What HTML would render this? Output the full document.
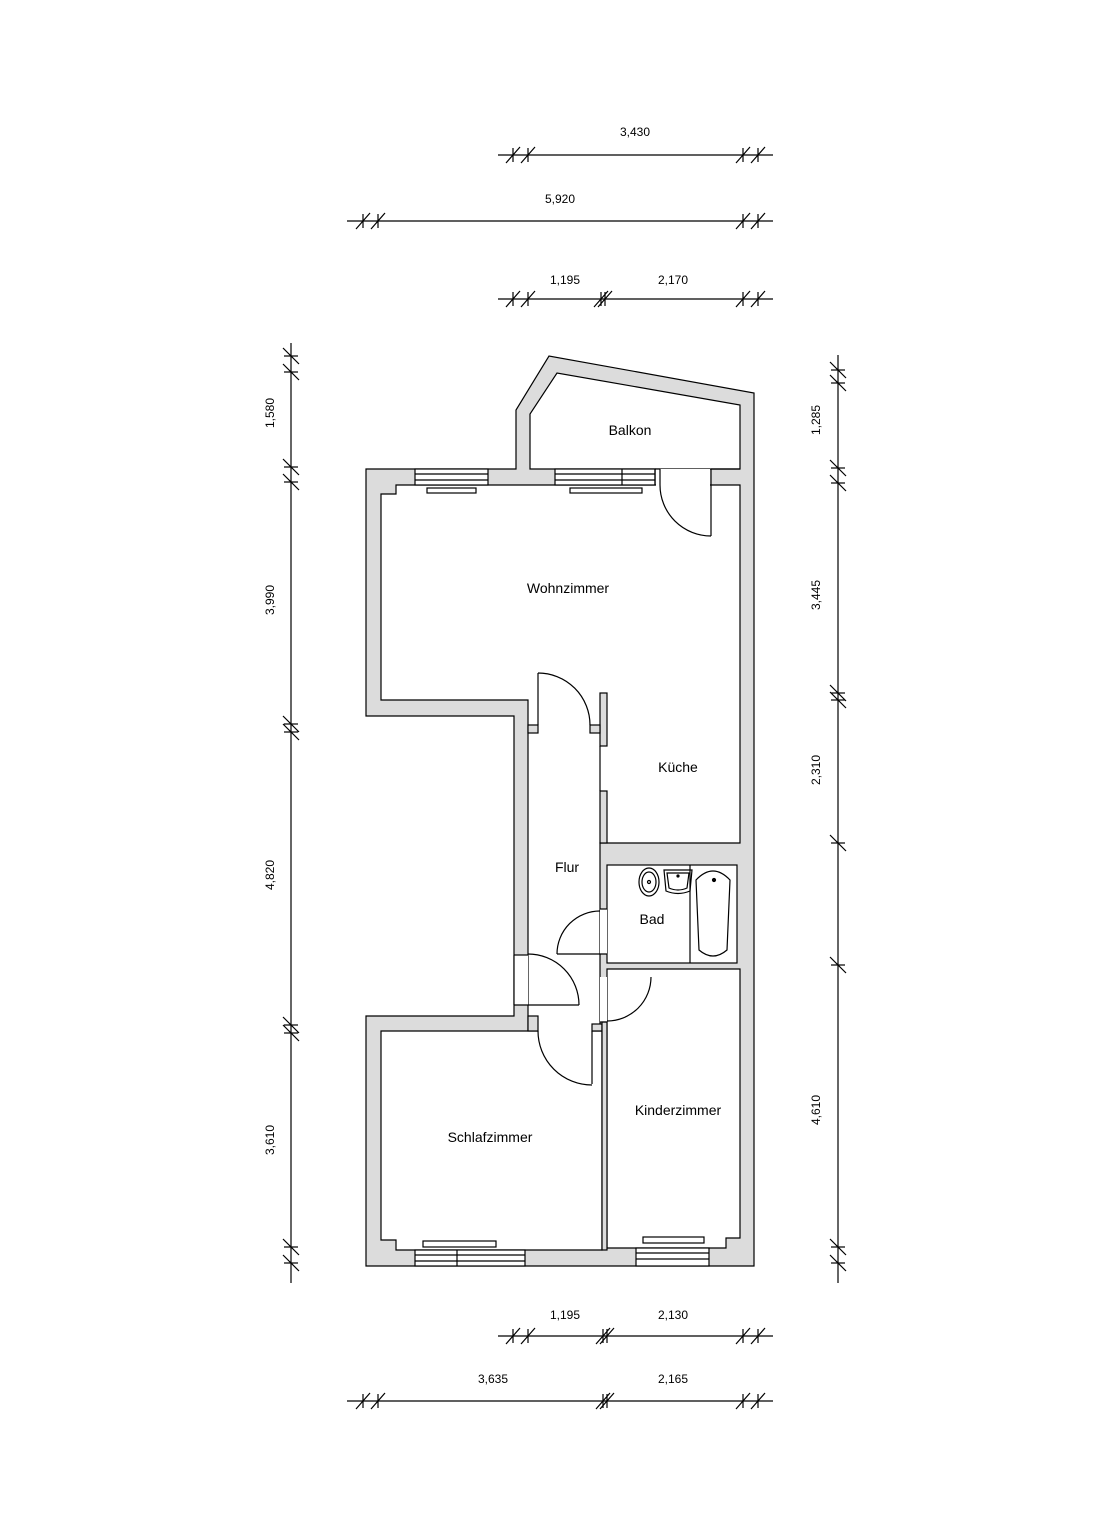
<!DOCTYPE html>
<html><head><meta charset="utf-8"><style>
html,body{margin:0;padding:0;background:#fff;}
svg{display:block;}
text{font-family:"Liberation Sans",Arial,sans-serif;fill:#000;}
</style></head><body>
<svg width="1109" height="1538" viewBox="0 0 1109 1538" xmlns="http://www.w3.org/2000/svg">
<defs>
<g id="ht"><line x1="0" y1="-7" x2="0" y2="7"/><line x1="-7" y1="8" x2="7" y2="-8"/></g>
<g id="vt"><line x1="-7" y1="0" x2="7" y2="0"/><line x1="-8" y1="-8" x2="8" y2="8"/></g>
</defs>
<g stroke="#000" stroke-width="1.2" fill="none">
<line x1="498" y1="155" x2="773" y2="155"/>
<use href="#ht" x="513" y="155"/><use href="#ht" x="528" y="155"/><use href="#ht" x="743" y="155"/><use href="#ht" x="758" y="155"/>
<line x1="347" y1="221" x2="773" y2="221"/>
<use href="#ht" x="363" y="221"/><use href="#ht" x="378" y="221"/><use href="#ht" x="743" y="221"/><use href="#ht" x="758" y="221"/>
<line x1="498" y1="299" x2="773" y2="299"/>
<use href="#ht" x="513" y="299"/><use href="#ht" x="528" y="299"/><use href="#ht" x="601" y="299"/><use href="#ht" x="605" y="299"/><use href="#ht" x="743" y="299"/><use href="#ht" x="758" y="299"/>
<line x1="498" y1="1336" x2="773" y2="1336"/>
<use href="#ht" x="513" y="1336"/><use href="#ht" x="528" y="1336"/><use href="#ht" x="603" y="1336"/><use href="#ht" x="607" y="1336"/><use href="#ht" x="743" y="1336"/><use href="#ht" x="758" y="1336"/>
<line x1="347" y1="1401" x2="773" y2="1401"/>
<use href="#ht" x="363" y="1401"/><use href="#ht" x="378" y="1401"/><use href="#ht" x="603" y="1401"/><use href="#ht" x="607" y="1401"/><use href="#ht" x="743" y="1401"/><use href="#ht" x="758" y="1401"/>
<line x1="291" y1="343" x2="291" y2="1283"/>
<use href="#vt" x="291" y="356"/><use href="#vt" x="291" y="372"/><use href="#vt" x="291" y="467"/><use href="#vt" x="291" y="482"/>
<use href="#vt" x="291" y="724"/><use href="#vt" x="291" y="732"/><use href="#vt" x="291" y="1025"/><use href="#vt" x="291" y="1033"/>
<use href="#vt" x="291" y="1247"/><use href="#vt" x="291" y="1263"/>
<line x1="838" y1="355" x2="838" y2="1283"/>
<use href="#vt" x="838" y="370"/><use href="#vt" x="838" y="383"/><use href="#vt" x="838" y="468"/><use href="#vt" x="838" y="483"/>
<use href="#vt" x="838" y="693"/><use href="#vt" x="838" y="700"/><use href="#vt" x="838" y="843"/><use href="#vt" x="838" y="965"/>
<use href="#vt" x="838" y="1247"/><use href="#vt" x="838" y="1263"/>
</g>
<g font-size="12" text-anchor="middle">
<text x="635" y="136">3,430</text>
<text x="560" y="203">5,920</text>
<text x="565" y="284">1,195</text><text x="673" y="284">2,170</text>
<text x="565" y="1319">1,195</text><text x="673" y="1319">2,130</text>
<text x="493" y="1383">3,635</text><text x="673" y="1383">2,165</text>
<text transform="translate(274,413) rotate(-90)">1,580</text>
<text transform="translate(274,600) rotate(-90)">3,990</text>
<text transform="translate(274,875) rotate(-90)">4,820</text>
<text transform="translate(274,1140) rotate(-90)">3,610</text>
<text transform="translate(820,420) rotate(-90)">1,285</text>
<text transform="translate(820,595) rotate(-90)">3,445</text>
<text transform="translate(820,770) rotate(-90)">2,310</text>
<text transform="translate(820,1110) rotate(-90)">4,610</text>
</g>

<g stroke="#000" stroke-width="1.2">
<path fill="#dcdcdc" d="M366,469 L516,469 L516,410 L549,356 L754,393 L754,1266 L366,1266 L366,1016 L514,1016 L514,716 L366,716 Z"/>
<path fill="#fff" d="M530,469 L530,414 L557,373 L740,405 L740,469 Z"/>
<path fill="#fff" d="M381,494 L396,494 L396,485 L740,485 L740,843 L600,843 L600,1031 L528,1031 L528,700 L381,700 Z"/>
<rect fill="#fff" x="607" y="865" width="130" height="98"/>
<path fill="#fff" d="M607,969 L740,969 L740,1238 L726,1238 L726,1248 L607,1248 Z"/>
<path fill="#fff" d="M381,1031 L602,1031 L602,1250 L396,1250 L396,1240 L381,1240 Z"/>
</g>
<g stroke="none" fill="#fff">
<rect x="538" y="1025" width="54" height="12"/>
<rect x="514" y="955" width="14" height="50"/>
<rect x="600" y="909" width="7" height="45"/>
<rect x="600" y="977" width="7" height="45"/>
<rect x="601" y="747" width="6" height="44"/>
<rect x="656" y="469" width="54" height="19"/>
</g>
<g stroke="#000" stroke-width="1.2" fill="#dcdcdc">
<rect x="600" y="693" width="7" height="53"/>
<rect x="600" y="791" width="7" height="52"/>
<rect x="528" y="725" width="10" height="8"/>
<rect x="590" y="725" width="10" height="8"/>
<rect x="528" y="1016" width="10" height="15"/>
<rect x="592" y="1024" width="10" height="7"/>
<rect x="602" y="1022" width="5" height="228"/>
</g>
<g stroke="#000" stroke-width="1.2" fill="none">
<line x1="600" y1="746" x2="600" y2="791"/>
<rect x="415" y="469" width="73" height="16" fill="#fff"/>
<line x1="415" y1="474" x2="488" y2="474"/><line x1="415" y1="480" x2="488" y2="480"/>
<rect x="427" y="488" width="49" height="5" fill="#fff"/>
<rect x="555" y="469" width="100" height="16" fill="#fff"/>
<line x1="555" y1="474" x2="655" y2="474"/><line x1="555" y1="480" x2="655" y2="480"/><line x1="622" y1="469" x2="622" y2="485"/>
<rect x="570" y="488" width="72" height="5" fill="#fff"/>
<line x1="655" y1="469" x2="655" y2="485"/><line x1="660" y1="469" x2="660" y2="485"/><line x1="711" y1="469" x2="711" y2="536"/>
<line x1="655" y1="469" x2="660" y2="469"/><line x1="711" y1="469" x2="740" y2="469"/>
<path d="M711,536 A51,51 0 0 1 660,485"/>
<line x1="538" y1="673" x2="538" y2="725"/>
<path d="M538,673 A52,52 0 0 1 590,725"/>
<line x1="557" y1="954" x2="607" y2="954"/><line x1="600" y1="909" x2="607" y2="909"/>
<path d="M557,954 A43,43 0 0 1 600,911"/>
<path d="M651,977 A44,44 0 0 1 607,1021"/>
<line x1="600" y1="1022" x2="607" y2="1022"/>
<line x1="514" y1="955" x2="528" y2="955"/><line x1="514" y1="1005" x2="579" y2="1005"/><line x1="514" y1="955" x2="514" y2="1005"/>
<path d="M528,954 A51,51 0 0 1 579,1005"/>
<line x1="592" y1="1031" x2="592" y2="1084"/>
<path d="M538,1031 A54,54 0 0 0 592,1085"/>
<line x1="690" y1="865" x2="690" y2="963"/>
<path d="M696,880 Q713,862 730,880 L727,950 Q713,962 699,950 Z"/>
<circle cx="714" cy="880" r="1.5" fill="#000"/>
<ellipse cx="649" cy="882" rx="10" ry="14"/><ellipse cx="649" cy="882" rx="7" ry="10"/>
<circle cx="649" cy="882" r="1.5"/>
<path d="M664,870 L692,870 L690,891 Q678,896 666,891 Z"/><path d="M667,873 L689,873 L687,888 Q678,892 669,888 Z"/>
<circle cx="678" cy="876" r="1" fill="#000"/>
<rect x="415" y="1250" width="110" height="16" fill="#fff"/>
<line x1="415" y1="1255" x2="525" y2="1255"/><line x1="415" y1="1261" x2="525" y2="1261"/><line x1="457" y1="1250" x2="457" y2="1266"/>
<rect x="423" y="1241" width="73" height="6" fill="#fff"/>
<rect x="636" y="1248" width="73" height="18" fill="#fff"/>
<line x1="636" y1="1253" x2="709" y2="1253"/><line x1="636" y1="1259" x2="709" y2="1259"/>
<rect x="643" y="1237" width="61" height="6" fill="#fff"/>
</g>
<g font-size="14" text-anchor="middle">
<text x="630" y="435">Balkon</text>
<text x="568" y="593">Wohnzimmer</text>
<text x="678" y="772">Küche</text>
<text x="567" y="872">Flur</text>
<text x="652" y="924">Bad</text>
<text x="490" y="1142">Schlafzimmer</text>
<text x="678" y="1115">Kinderzimmer</text>
</g>
</svg>
</body></html>
